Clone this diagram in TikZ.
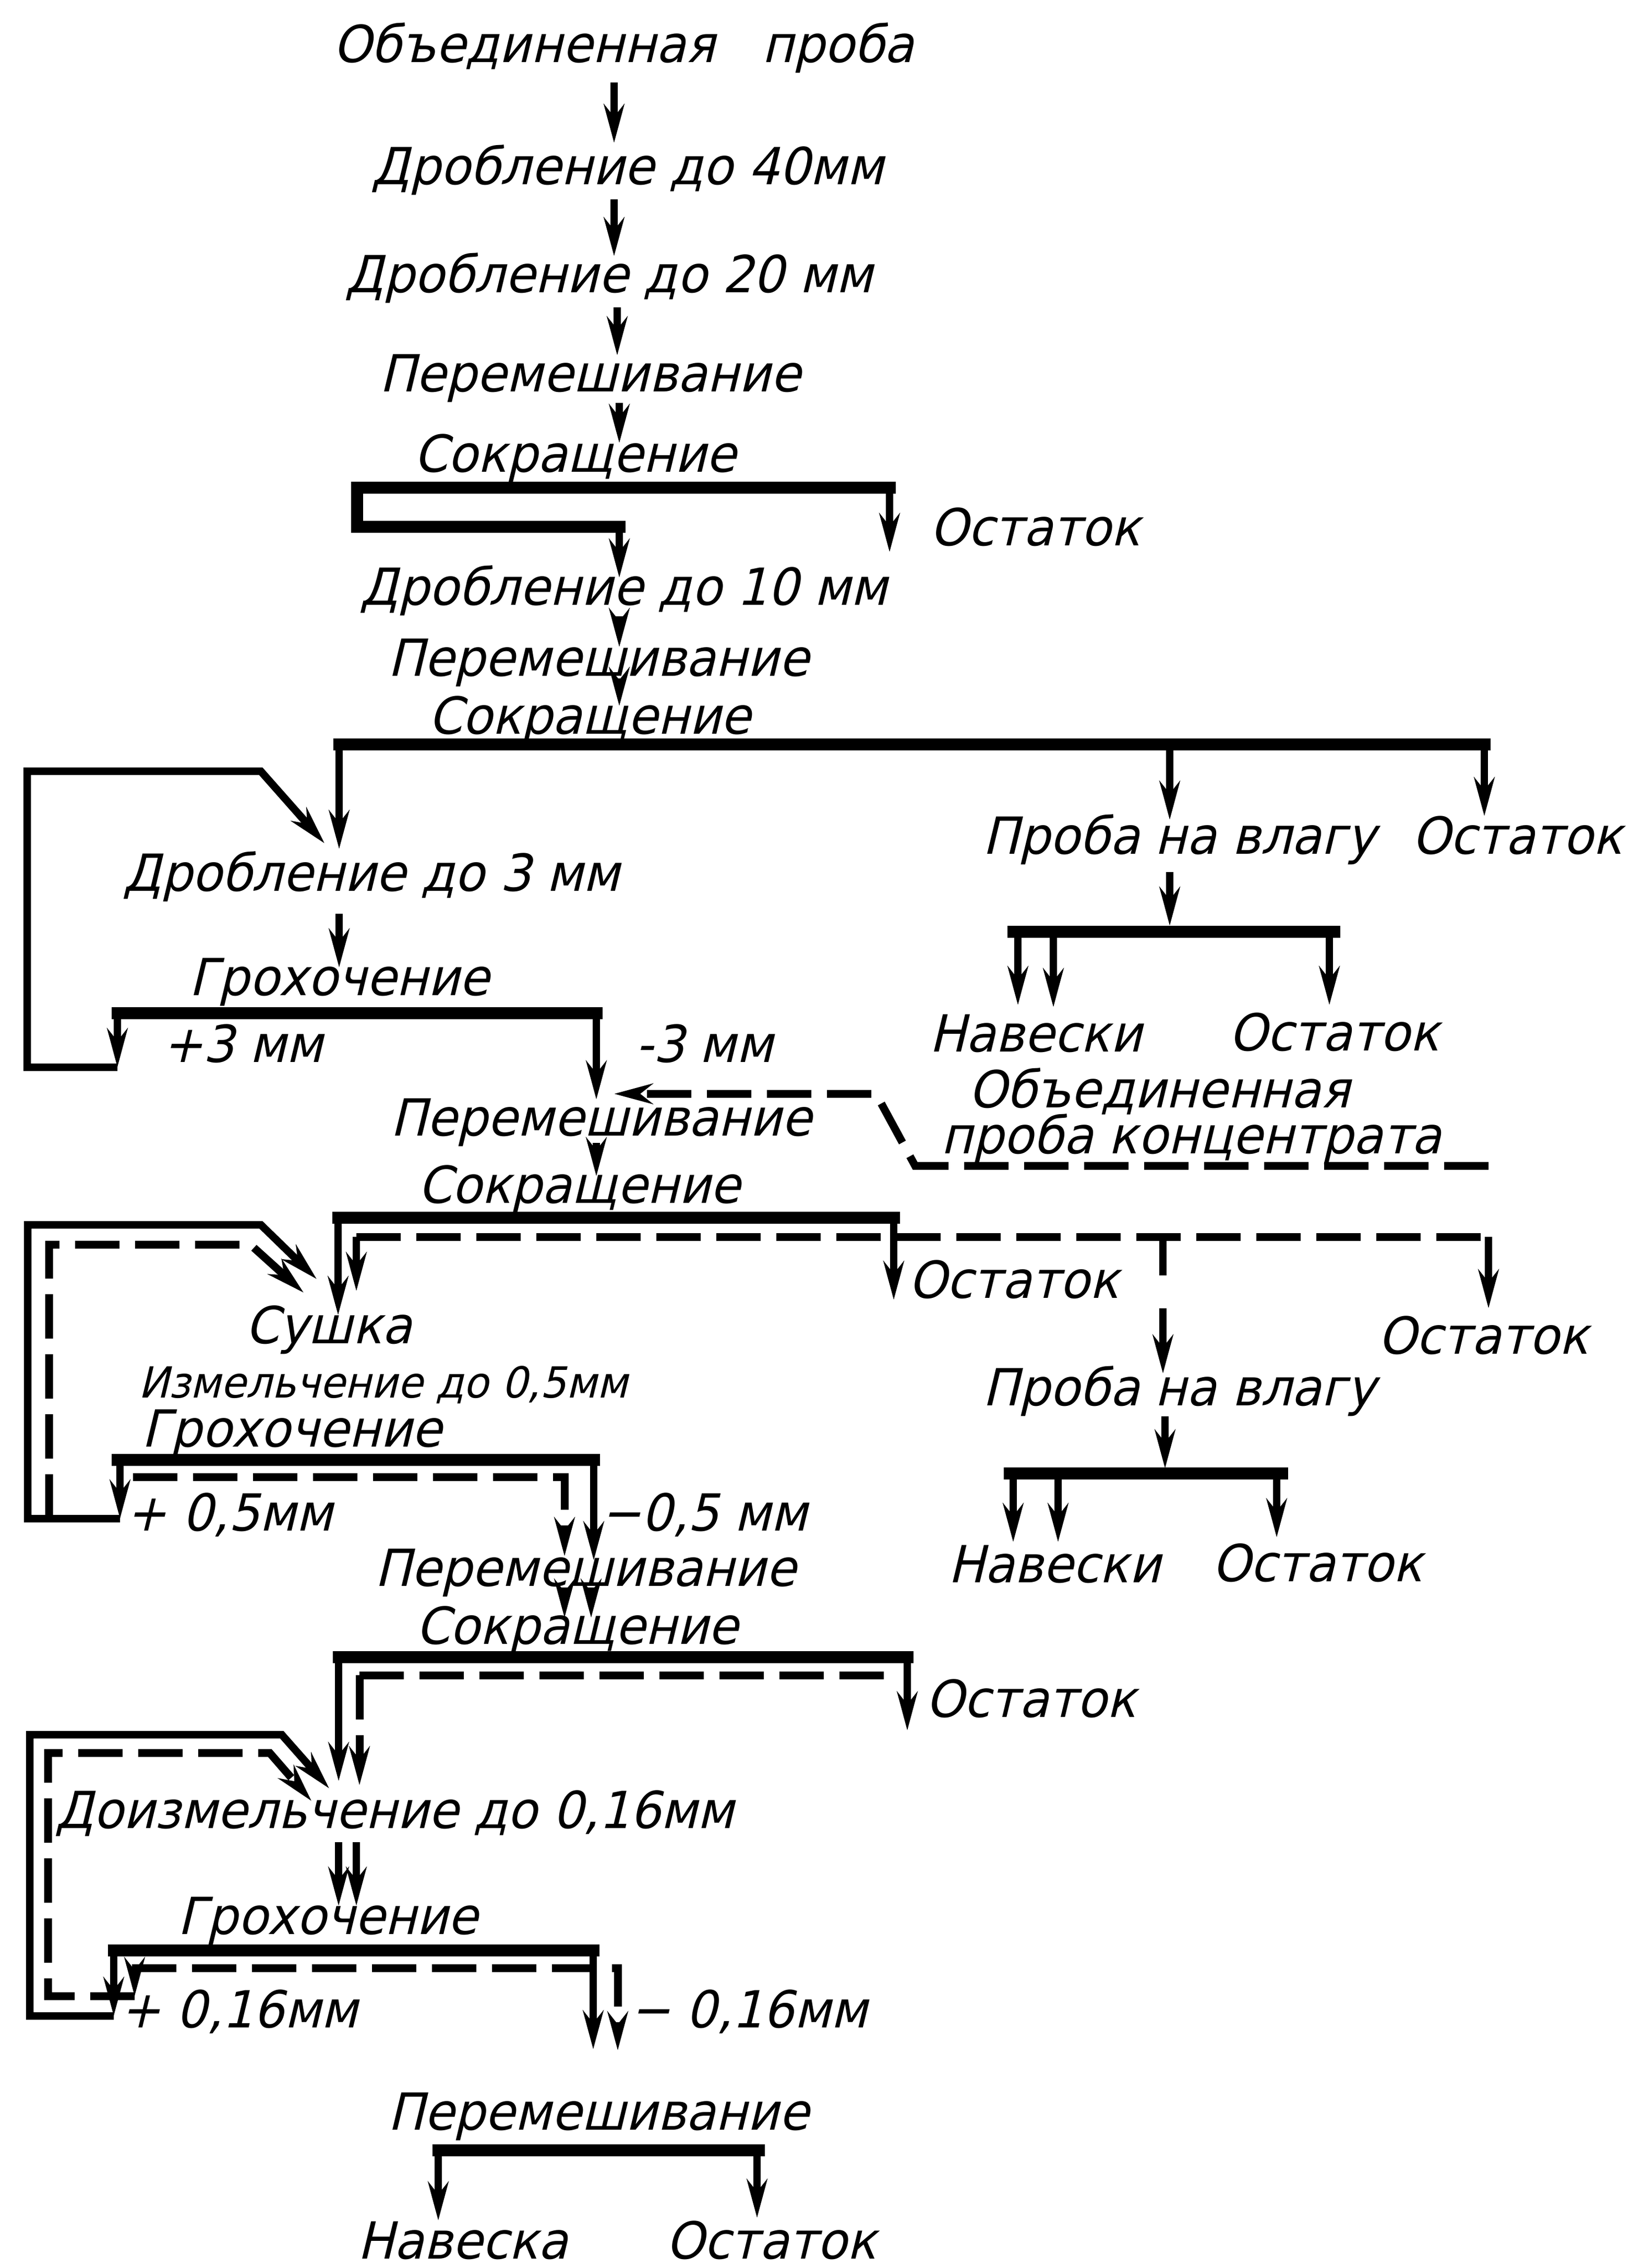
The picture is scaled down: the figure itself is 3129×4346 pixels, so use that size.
\documentclass[tikz,border=0pt]{standalone}
\usepackage{fontspec}
\setmainfont{DejaVu Sans}[FakeSlant=0.24, FakeStretch=0.95]
\usetikzlibrary{arrows.meta}
\newcommand\lblfnt{\fontsize{9.8pt}{11pt}\selectfont}
\newcommand\smlfnt{\fontsize{8.2pt}{10pt}\selectfont}
\tikzset{
  lbl/.style={inner sep=0pt, anchor=base, font=\lblfnt},
  slbl/.style={inner sep=0pt, anchor=base, font=\smlfnt},
  bar/.style={line width=2.3pt, line cap=rect, line join=miter},
  ln/.style={line width=1.45pt, line join=miter},
  tip/.style={-{Stealth[length=7.4pt, width=3.9pt, inset=2.4pt]}},
  arr/.style={ln, tip},
  dsh/.style={line width=1.5pt, dash pattern=on 8.5pt off 3pt, line join=miter},
  darr/.style={dsh, tip},
}
\begin{document}
\begin{tikzpicture}[x=0.1pt, y=-0.1pt]
\useasboundingbox (0,0) rectangle (3129,4346);
% ---------- labels ----------
\node[lbl] (t1) at (1195,120) {Объединенная\hspace{9pt}проба};
\node[lbl] (t2) at (1203,354) {Дробление до 40мм};
\node[lbl] (t3) at (1168,561) {Дробление до 20 мм};
\node[lbl] (t4) at (1131,751) {Перемешивание};
\node[lbl] (t5) at (1102,905) {Сокращение};
\node[lbl] (o1) at (1984,1046) {Остаток};
\node[lbl] (t6) at (1196,1160) {Дробление до 10 мм};
\node[lbl] (t7) at (1147,1296) {Перемешивание};
\node[lbl] (t8) at (1130,1407) {Сокращение};
\node[lbl] (t9) at (712,1708) {Дробление до 3 мм};
\node[lbl] (t10) at (650,1907) {Грохочение};
\node[lbl] (p3) at (465,2035) {+3 мм};
\node[lbl] (m3) at (1350,2035) {-3 мм};
\node[lbl] (pv1) at (2260,1636) {Проба на влагу};
\node[lbl] (o2) at (2908,1636) {Остаток};
\node[lbl] (n1) at (1985,2015) {Навески};
\node[lbl] (o3) at (2557,2013) {Остаток};
\node[lbl] (c1) at (2222,2122) {Объединенная};
\node[lbl] (c2) at (2283,2210) {проба концентрата};
\node[lbl] (t11) at (1152,2176) {Перемешивание};
\node[lbl] (t12) at (1110,2305) {Сокращение};
\node[lbl] (o4) at (1943,2487) {Остаток};
\node[lbl] (o5) at (2843,2594) {Остаток};
\node[lbl] (t13) at (630,2574) {Сушка};
\node[slbl] (t14) at (734,2678) {Измельчение до 0,5мм};
\node[lbl] (pv2) at (2260,2693) {Проба на влагу};
\node[lbl] (t15) at (559,2772) {Грохочение};
\node[lbl] (p05) at (440,2933) {+ 0,5мм};
\node[lbl] (m05) at (1350,2933) {−0,5 мм};
\node[lbl] (n2) at (2021,3032) {Навески};
\node[lbl] (o6) at (2525,3030) {Остаток};
\node[lbl] (t16) at (1122,3039) {Перемешивание};
\node[lbl] (t17) at (1106,3150) {Сокращение};
\node[lbl] (o7) at (1976,3290) {Остаток};
\node[lbl] (t18) at (757,3503) {Доизмельчение до 0,16мм};
\node[lbl] (t19) at (628,3706) {Грохочение};
\node[lbl] (p016) at (458,3885) {+ 0,16мм};
\node[lbl] (m016) at (1435,3885) {− 0,16мм};
\node[lbl] (t20) at (1147,4081) {Перемешивание};
\node[lbl] (n3) at (887,4328) {Навеска};
\node[lbl] (o8) at (1478,4328) {Остаток};
% ---------- section 1 ----------
\draw[arr] (1177,158) -- (1177,274);
\draw[arr] (1177,382) -- (1177,491);
\draw[arr] (1183,589) -- (1183,681);
\draw[arr] (1187,772) -- (1187,849);
\draw[bar] (1705,935) -- (684,935) -- (684,1010) -- (1187,1010);
\draw[arr] (1187,1010) -- (1187,1107);
\draw[arr] (1705,935) -- (1705,1058);
\draw[arr] (1187,1181) -- (1187,1240);
\draw[arr] (1187,1300) -- (1187,1353);
% ---------- section 2 ----------
\draw[bar] (650,1427) -- (2845,1427);
\draw[arr] (650,1427) -- (650,1627);
\draw[arr] (2242,1427) -- (2242,1571);
\draw[arr] (2845,1427) -- (2845,1564);
\draw[arr] (2242,1671) -- (2242,1774);
\draw[bar] (1942,1785) -- (2557,1785);
\draw[arr] (1951,1785) -- (1951,1926);
\draw[arr] (2019,1785) -- (2019,1930);
\draw[arr] (2548,1785) -- (2548,1926);
\draw[arr] (650,1751) -- (650,1854);
\draw[bar] (225,1941) -- (1143,1941);
\draw[arr] (225,1941) -- (225,2045);
\draw[arr] (225,2045) -- (52,2045) -- (52,1478) -- (500,1478) -- (622,1616);
\draw[arr] (1143,1941) -- (1143,2107);
\draw[darr] (2853,2234) -- (1754,2234) -- (1679,2096) -- (1177,2096);
\draw[arr] (1143,2190) -- (1143,2254);
% ---------- section 3 ----------
\draw[bar] (648,2333) -- (1713,2333);
\draw[arr] (1713,2333) -- (1713,2491);
\draw[arr] (648,2333) -- (648,2520);
\draw[dsh] (683,2370) -- (2853,2370);
\draw[arr] (683,2370) -- (683,2474);
\draw[arr] (2853,2370) -- (2853,2507);
\draw[ln] (2229,2370) -- (2229,2444);
\draw[arr] (2229,2507) -- (2229,2632);
\draw[arr] (230,2797) -- (230,2910);
\draw[arr] (230,2910) -- (53,2910) -- (53,2347) -- (500,2347) -- (607,2451);
\draw[darr] (94,2910) -- (94,2385) -- (480,2385) -- (582,2477);
\draw[bar] (225,2797) -- (1138,2797);
\draw[arr] (1138,2797) -- (1138,2990);
\draw[darr] (255,2830) -- (1082,2830) -- (1082,2982);
\draw[arr] (1082,3042) -- (1082,3100);
\draw[arr] (1133,3042) -- (1133,3100);
\draw[arr] (2233,2714) -- (2233,2814);
\draw[bar] (1935,2823) -- (2457,2823);
\draw[arr] (1942,2823) -- (1942,2955);
\draw[arr] (2028,2823) -- (2028,2955);
\draw[arr] (2447,2823) -- (2447,2946);
% ---------- section 4 ----------
\draw[bar] (649,3175) -- (1739,3175);
\draw[arr] (1739,3175) -- (1739,3316);
\draw[arr] (649,3175) -- (649,3413);
\draw[dsh] (689,3210) -- (1722,3210);
\draw[darr] (689,3210) -- (689,3421);
\draw[arr] (218,3863) -- (57,3863) -- (57,3324) -- (540,3324) -- (631,3427);
\draw[arr] (218,3737) -- (218,3863);
\draw[darr] (258,3825) -- (92,3825) -- (92,3359) -- (517,3359) -- (597,3451);
\draw[arr] (258,3771) -- (258,3825);
\draw[arr] (649,3530) -- (649,3652);
\draw[arr] (683,3530) -- (683,3652);
\draw[bar] (218,3737) -- (1137,3737);
\draw[arr] (1137,3737) -- (1137,3927);
\draw[darr] (253,3771) -- (1184,3771) -- (1184,3929);
% ---------- final ----------
\draw[bar] (840,4120) -- (1454,4120);
\draw[arr] (840,4120) -- (840,4255);
\draw[arr] (1451,4120) -- (1451,4250);
\end{tikzpicture}
\end{document}
